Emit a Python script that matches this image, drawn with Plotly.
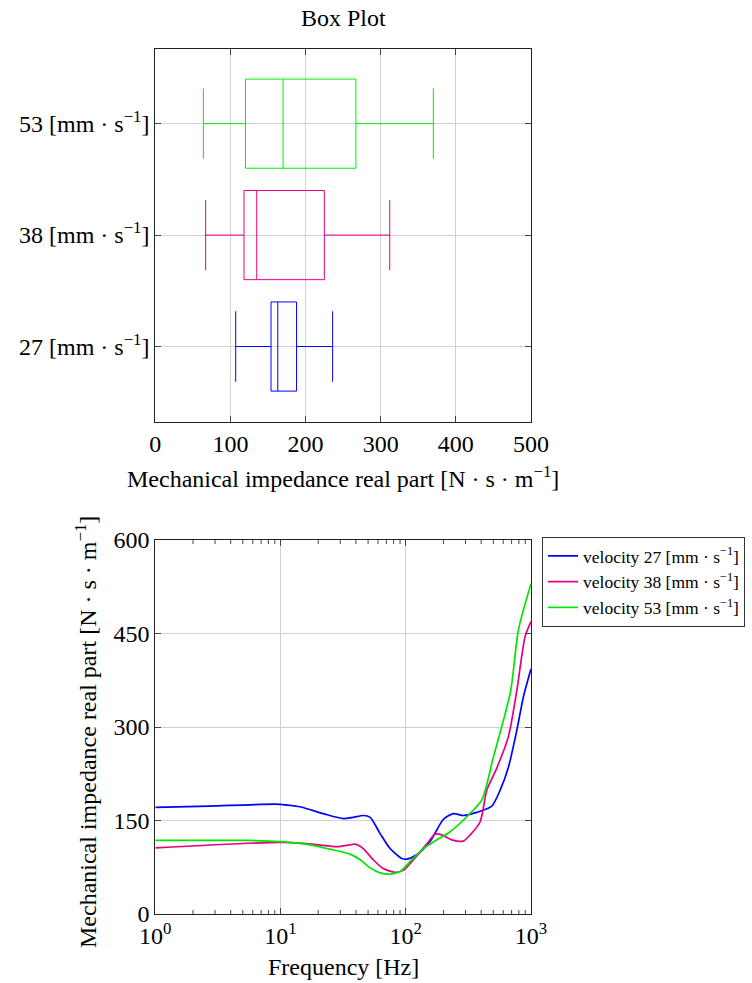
import plotly.graph_objects as go

# ---- box plot statistics (N·s·m^-1), one row per excitation velocity ----
velocities = ["27", "38", "53"]
box_colors = ["#0000ff", "#e6007e", "#00ee00"]
lower_fence = [107, 67, 64]
q1_vals = [154, 118, 120]
median_vals = [163, 135, 170]
q3_vals = [188, 225, 267]
upper_fence = [236, 312, 370]

# ---- frequency response curves ----
freq_27 = [1, 2.7, 9.9, 14.3, 22, 31.8, 38, 45.9, 52, 62.4, 75, 93, 102, 122, 156, 200, 240, 289, 369, 486, 568, 661, 771, 871, 1000]
imp_27 = [171, 173, 176, 172, 161, 153, 155, 158, 155, 129, 105, 89, 88, 95, 116, 152, 161, 158, 163, 173, 199, 236, 295, 349, 393]

freq_38 = [1, 9.9, 16.2, 28.1, 35.9, 39.4, 45.7, 55, 66, 82, 95.5, 115, 148, 171, 194, 233, 288, 327, 393, 444, 533, 661, 771, 897, 1000]
imp_38 = [106, 115, 113, 108, 111, 112, 105, 87, 73, 67, 70, 87, 113, 128, 127, 119, 117, 127, 148, 199, 234, 285, 359, 445, 469]

freq_53 = [1, 5.7, 9.9, 17.2, 24.8, 35.9, 43.2, 51.9, 62.4, 75, 90.2, 108, 138, 177, 226, 307, 405, 501, 603, 690, 794, 1000]
imp_53 = [118, 118, 116, 111, 104, 96, 87, 74, 66, 64, 68, 84, 105, 119, 132, 156, 183, 252, 311, 359, 456, 530]

# minor tick positions on the logarithmic frequency axis
minor_freqs = [m * 10 ** d for d in range(3) for m in range(2, 10)]

W, H = 752, 983


def px_x(p):
    return p / W


def px_y(p):
    return 1 - p / H


serif = "Liberation Serif"
unit_v = "[mm · s<sup>−1</sup>]"
unit_z = "[N · s · m<sup>−1</sup>]"

fig = go.Figure()

for i, v in enumerate(velocities):
    fig.add_trace(go.Box(
        orientation="h",
        y=[i],
        q1=[q1_vals[i]],
        median=[median_vals[i]],
        q3=[q3_vals[i]],
        lowerfence=[lower_fence[i]],
        upperfence=[upper_fence[i]],
        width=0.8,
        whiskerwidth=0.79,
        line=dict(color=box_colors[i], width=1),
        fillcolor="rgba(0,0,0,0)",
        boxpoints=False,
        showlegend=False,
        hoverinfo="skip",
        xaxis="x", yaxis="y",
    ))

line_colors = ["#0000ff", "#e6007e", "#00e600"]
curves = [(freq_27, imp_27), (freq_38, imp_38), (freq_53, imp_53)]
for i, (f, z) in enumerate(curves):
    fig.add_trace(go.Scatter(
        x=f, y=z, mode="lines",
        line=dict(color=line_colors[i], width=1.7, shape="spline", smoothing=0.7),
        name=f"velocity {velocities[i]} {unit_v}",
        xaxis="x2", yaxis="y2",
    ))

axis_common = dict(
    showline=True, linecolor="#222", linewidth=1, mirror="allticks",
    ticks="inside", ticklen=6, tickcolor="#444",
    showgrid=True, gridcolor="#d0d0d0", gridwidth=1,
    zeroline=False, automargin=False,
    tickfont=dict(family=serif, size=24, color="black"),
)

x_dom = [px_x(155.3), px_x(531)]
y2_dom = [px_y(914), px_y(540)]

# inside minor ticks (bottom and top edges) of the log frequency axis
minor_len = 4 / ((y2_dom[1] - y2_dom[0]) * H)
minor_shapes = []
for f in minor_freqs:
    for y0, y1 in ((0, minor_len), (1 - minor_len, 1)):
        minor_shapes.append(dict(type="line", xref="x2", yref="y2 domain",
                                 x0=f, x1=f, y0=y0, y1=y1,
                                 line=dict(color="#444", width=1), layer="above"))

fig.update_layout(
    width=W, height=H,
    margin=dict(l=0, r=0, t=0, b=0),
    paper_bgcolor="white", plot_bgcolor="white",
    font=dict(family=serif, color="black"),
    xaxis=dict(axis_common, domain=x_dom, anchor="y", range=[0, 500],
               tickvals=[0, 100, 200, 300, 400, 500]),
    yaxis=dict(axis_common, domain=[px_y(422.3), px_y(49)], anchor="x",
               range=[-0.68, 2.67], tickvals=[0, 1, 2],
               ticktext=[f"{v} {unit_v}" for v in velocities]),
    xaxis2=dict(axis_common, domain=x_dom, anchor="y2", type="log",
                range=[0, 3], tickvals=[1, 10, 100, 1000],
                ticktext=["10<sup>0</sup>", "10<sup>1</sup>", "10<sup>2</sup>", "10<sup>3</sup>"]),
    yaxis2=dict(axis_common, domain=y2_dom, anchor="x2",
                range=[0, 600], tickvals=[0, 150, 300, 450, 600]),
    legend=dict(x=px_x(542), y=px_y(537), xanchor="left", yanchor="top",
                bordercolor="#333", borderwidth=1, bgcolor="white",
                font=dict(family=serif, size=17.5), tracegroupgap=0,
                itemwidth=30),
    shapes=minor_shapes,
    annotations=[
        dict(text="Box Plot", x=px_x(343), y=px_y(18), xref="paper", yref="paper",
             showarrow=False, font=dict(family=serif, size=24), xanchor="center", yanchor="middle"),
        dict(text=f"Mechanical impedance real part {unit_z}", x=px_x(343), y=px_y(477),
             xref="paper", yref="paper", showarrow=False,
             font=dict(family=serif, size=24), xanchor="center", yanchor="middle"),
        dict(text="Frequency [Hz]", x=px_x(343), y=px_y(967), xref="paper", yref="paper",
             showarrow=False, font=dict(family=serif, size=24), xanchor="center", yanchor="middle"),
        dict(text=f"Mechanical impedance real part {unit_z}", x=px_x(86), y=px_y(732),
             xref="paper", yref="paper", showarrow=False, textangle=-90,
             font=dict(family=serif, size=24), xanchor="center", yanchor="middle"),
    ],
)

fig.write_html("out.html")
